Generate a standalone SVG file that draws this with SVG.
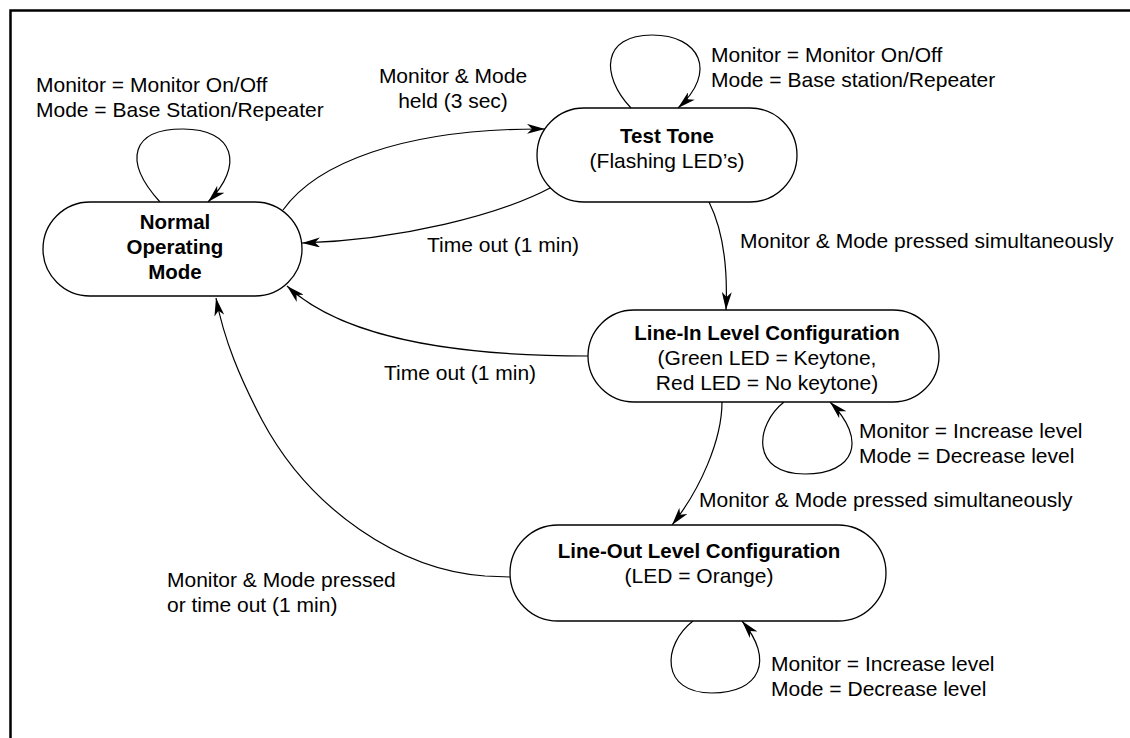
<svg xmlns="http://www.w3.org/2000/svg" width="1130" height="738" viewBox="0 0 1130 738">
<style>
.node{fill:#fff;stroke:#000;stroke-width:1.3}
.edge{fill:none;stroke:#000;stroke-width:1.2}
text{font-family:"Liberation Sans",Arial,sans-serif;font-size:21px;fill:#000}
.b{font-weight:bold;font-size:20.5px}
.c{text-anchor:middle}
</style>
<defs>
<marker id="ah" viewBox="0 0 18 10" refX="18" refY="5" markerWidth="18" markerHeight="10" markerUnits="userSpaceOnUse" orient="auto">
<path d="M0,0 L18,5 L0,10 L5,5 Z" fill="#000"/>
</marker>
</defs>
<rect width="1130" height="738" fill="#fff"/>
<path d="M10.5,738 V10.5 H1130" fill="none" stroke="#000" stroke-width="2.5"/>

<g id="connectors">
<path class="edge" marker-end="url(#ah)" d="M160,202 C122,160 132,129 183,129 C234,129 245,165 208,202"/>
<path class="edge" marker-end="url(#ah)" d="M631,108 C600,75 602,35 652,35 C700,35 718,72 678,108"/>
<path class="edge" marker-end="url(#ah)" d="M784,402 C755,425 750,474 805,474 C855,474 868,440 830,402"/>
<path class="edge" marker-end="url(#ah)" d="M693,621 C662,645 660,693 712,693 C760,693 775,660 742,621"/>
<path class="edge" marker-end="url(#ah)" d="M283,210 C315,165 400,128 545,129"/>
<path class="edge" marker-end="url(#ah)" d="M552,187 C500,215 400,240 302,243"/>
<path class="edge" marker-end="url(#ah)" d="M709,202 C722,228 728,265 726,310"/>
<path class="edge" marker-end="url(#ah)" d="M588,356 C480,356 350,345 287,286"/>
<path class="edge" marker-end="url(#ah)" d="M722,402 C722,440 700,490 672,525"/>
<path class="edge" marker-end="url(#ah)" d="M510,577 L485,576 C400,570 310,510 262,420 C240,378 224,340 216,298"/>
</g>

<g id="labels">
<text x="36" y="92">Monitor = Monitor On/Off</text>
<text x="36" y="117">Mode = Base Station/Repeater</text>
<text class="c" x="453" y="83">Monitor &amp; Mode</text>
<text class="c" x="453" y="108">held (3 sec)</text>
<text x="711" y="62">Monitor = Monitor On/Off</text>
<text x="711" y="87">Mode = Base station/Repeater</text>
<text x="427" y="252">Time out (1 min)</text>
<text x="740" y="248">Monitor &amp; Mode pressed simultaneously</text>
<text x="384" y="380">Time out (1 min)</text>
<text x="859" y="438">Monitor = Increase level</text>
<text x="859" y="463">Mode = Decrease level</text>
<text x="699" y="507">Monitor &amp; Mode pressed simultaneously</text>
<text x="167" y="587">Monitor &amp; Mode pressed</text>
<text x="167" y="612">or time out (1 min)</text>
<text x="771" y="671">Monitor = Increase level</text>
<text x="771" y="696">Mode = Decrease level</text>
</g>

<g id="normal">
<rect class="node" x="43" y="202" width="259" height="94" rx="47"/>
<text class="b c" x="175" y="229">Normal</text>
<text class="b c" x="175" y="254">Operating</text>
<text class="b c" x="175" y="279">Mode</text>
</g>

<g id="testtone">
<rect class="node" x="537" y="108" width="260" height="94" rx="47"/>
<text class="b c" x="667" y="143">Test Tone</text>
<text class="c" x="667" y="168">(Flashing LED’s)</text>
</g>

<g id="linein">
<rect class="node" x="588" y="310" width="351" height="92" rx="46"/>
<text class="b c" x="767" y="340">Line-In Level Configuration</text>
<text class="c" x="767" y="365">(Green LED = Keytone,</text>
<text class="c" x="767" y="390">Red LED = No keytone)</text>
</g>

<g id="lineout">
<rect class="node" x="510" y="525" width="376" height="96" rx="48"/>
<text class="b c" x="699" y="558">Line-Out Level Configuration</text>
<text class="c" x="699" y="583">(LED = Orange)</text>
</g>
</svg>
